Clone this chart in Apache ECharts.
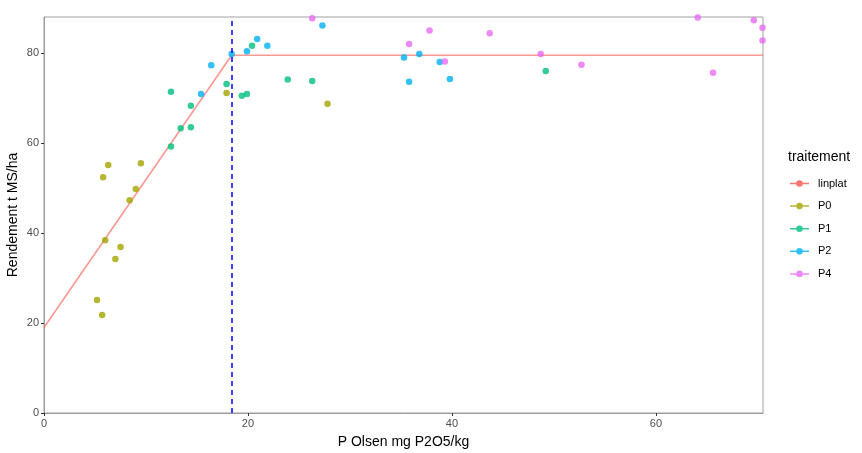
<!DOCTYPE html>
<html>
<head>
<meta charset="utf-8">
<script src="https://cdn.jsdelivr.net/npm/echarts@6/dist/echarts.min.js"></script>
<style>html,body{margin:0;padding:0;background:#fff}#c{width:862px;height:453px}</style>
</head>
<body>
<div id="c"></div>
<script>
// ---- data ----
const seriesNames = ['linplat', 'P0', 'P1', 'P2', 'P4'];
const linplatX = [0, 18.4, 70.5];
const linplatY = [19, 79.5, 79.5];
const breakX = 18.4;
const p0X = [5.2, 5.7, 5.8, 6.3, 6.0, 7.0, 7.5, 8.4, 9.0, 9.5, 17.9, 27.8];
const p0Y = [25.1, 21.8, 52.4, 55.1, 38.4, 34.2, 36.9, 47.3, 49.8, 55.5, 71.1, 68.7];
const p1X = [12.45, 12.45, 13.4, 14.4, 14.4, 17.9, 19.4, 19.9, 20.4, 23.9, 26.3, 49.2];
const p1Y = [71.4, 59.2, 63.3, 63.5, 68.3, 73.1, 70.5, 70.9, 81.6, 74.1, 73.8, 76.0];
const p2X = [15.4, 16.4, 18.4, 19.9, 20.9, 21.9, 27.3, 35.3, 35.8, 36.8, 38.8, 39.8];
const p2Y = [70.9, 77.3, 79.8, 80.4, 83.1, 81.6, 86.1, 79.0, 73.6, 79.8, 78.0, 74.2];
const p4X = [26.3, 35.8, 37.8, 39.3, 43.7, 48.7, 52.7, 64.1, 65.6, 69.6, 70.45, 70.45];
const p4Y = [87.7, 82.0, 85.0, 78.1, 84.4, 79.8, 77.4, 87.9, 75.6, 87.3, 85.6, 82.8];
const xTicks = [0, 20, 40, 60];
const yTicks = [0, 20, 40, 60, 80];
const colors = ['#F8766D', '#A3A500', '#00BF7D', '#00B0F6', '#E76BF3'];

const zip = (xs, ys) => xs.map((x, i) => [x, ys[i]]);
const legendIcon = 'path://M0,9.2L20,9.2L20,10.8L0,10.8Z M10,6.5A3.5,3.5 0 1,1 10,13.5A3.5,3.5 0 1,1 10,6.5Z';

const chart = echarts.init(document.getElementById('c'), null, {renderer: 'canvas'});
const axisLabelStyle = {color: '#4d4d4d', fontSize: 11, fontFamily: 'Liberation Sans, Arial, sans-serif'};
const nameStyle = {color: '#000', fontSize: 14, fontFamily: 'Liberation Sans, Arial, sans-serif'};

function scatter(name, xs, ys, color) {
  return {
    name: name, type: 'scatter', data: zip(xs, ys),
    symbol: 'circle', symbolSize: 6.5,
    itemStyle: {color: color}, z: 3, clip: false
  };
}

chart.setOption({
  animation: false,
  color: colors,
  title: {
    text: 'traitement', left: 783, top: 145,
    textStyle: {color: '#000', fontSize: 14, fontWeight: 'normal', fontFamily: 'Liberation Sans, Arial, sans-serif'}
  },
  legend: {
    orient: 'vertical', left: 785, top: 173,
    itemWidth: 19, itemHeight: 7, itemGap: 11.6,
    icon: legendIcon,
    data: seriesNames,
    textStyle: {color: '#000', fontSize: 11, fontFamily: 'Liberation Sans, Arial, sans-serif', padding: [0, 0, 0, 4]}
  },
  grid: {left: 44, top: 17, width: 719, height: 396, show: true, borderColor: '#a0a0a0', borderWidth: 1,
         containLabel: false, outerBoundsMode: 'none'},
  xAxis: {
    type: 'value', min: 0, max: 70.5, interval: 20,
    name: 'P Olsen mg P2O5/kg', nameLocation: 'middle', nameGap: 22, nameTextStyle: nameStyle,
    nameMoveOverlap: false,
    axisLine: {lineStyle: {color: '#9a9a9a', width: 1}},
    axisTick: {show: true, length: 3, lineStyle: {color: '#333'}, customValues: xTicks},
    axisLabel: Object.assign({margin: 5, customValues: xTicks}, axisLabelStyle),
    splitLine: {show: false}
  },
  yAxis: {
    type: 'value', min: 0, max: 88, interval: 20,
    name: 'Rendement t MS/ha', nameLocation: 'middle', nameGap: 24, nameTextStyle: nameStyle,
    nameMoveOverlap: false,
    axisLine: {show: true, lineStyle: {color: '#9a9a9a', width: 1}},
    axisTick: {show: true, length: 3, lineStyle: {color: '#333'}, customValues: yTicks},
    axisLabel: Object.assign({margin: 5, customValues: yTicks}, axisLabelStyle),
    splitLine: {show: false}
  },
  series: [
    {
      name: 'linplat', type: 'line', data: zip(linplatX, linplatY),
      symbol: 'none', lineStyle: {color: '#F8766D', width: 1.6, opacity: 0.75},
      itemStyle: {color: '#F8766D'}, z: 2,
      markLine: {
        silent: true, symbol: 'none', label: {show: false},
        lineStyle: {color: '#0000FF', type: [5, 4], width: 1.5, opacity: 1},
        data: [{xAxis: breakX}]
      }
    },
    scatter('P0', p0X, p0Y, colors[1]),
    scatter('P1', p1X, p1Y, colors[2]),
    scatter('P2', p2X, p2Y, colors[3]),
    scatter('P4', p4X, p4Y, colors[4])
  ]
});
</script>
</body>
</html>
